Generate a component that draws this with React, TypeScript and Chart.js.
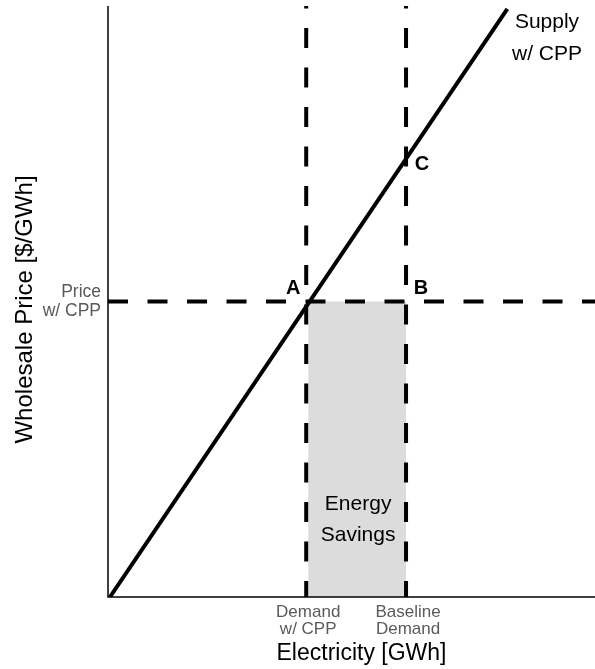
import React, { useEffect, useRef } from "react";
import { Chart, registerables } from "chart.js";

Chart.register(...registerables);

// Supply curve endpoints (x = electricity, y = wholesale price), axis range 0..100
const supplyX = [0.4, 82];
const supplyY = [0, 99.5];
// equilibrium price with CPP and the two demand levels
const priceCPP = [50];
const demandLevels = [40.7, 61.2]; // Demand w/ CPP, Baseline Demand
const yTickLabels = [["Price", "w/ CPP"]];
const xTickLabels = [["Demand", "w/ CPP"], ["Baseline", "Demand"]];
const pointLabels = ["A", "B", "C"];
const supplyLabel = ["Supply", "w/ CPP"];
const areaLabel = ["Energy", "Savings"];
const xTitle = "Electricity [GWh]";
const yTitle = "Wholesale Price [$/GWh]";

const FONT = "'Liberation Sans', Arial, sans-serif";

export default function App() {
  const ref = useRef<HTMLCanvasElement>(null);
  useEffect(() => {
    document.body.style.margin = "0";
    const canvas = ref.current!;
    const p = priceCPP[0];
    const dA = demandLevels[0];
    const dB = demandLevels[1];
    const slope = (supplyY[1] - supplyY[0]) / (supplyX[1] - supplyX[0]);
    const supplyAt = (x: number) => supplyY[0] + (x - supplyX[0]) * slope;

    const textPlugin = {
      id: "textPlugin",
      afterDraw(chart: any) {
        const ctx = chart.ctx as CanvasRenderingContext2D;
        const xs = chart.scales.x;
        const ys = chart.scales.y;
        const area = chart.chartArea;
        ctx.save();
        // axis lines
        ctx.strokeStyle = "#000";
        ctx.lineWidth = 1.5;
        ctx.beginPath();
        ctx.moveTo(area.left, area.top);
        ctx.lineTo(area.left, area.bottom);
        ctx.lineTo(area.right, area.bottom);
        ctx.stroke();

        // y tick labels
        ctx.fillStyle = "#5a5a5a";
        ctx.font = `17.5px ${FONT}`;
        ctx.textAlign = "right";
        ctx.textBaseline = "middle";
        yTickLabels.forEach((lines, i) => {
          const py = ys.getPixelForValue(priceCPP[i]);
          lines.forEach((l, j) => ctx.fillText(l, area.left - 7, py - 9 + j * 19));
        });
        // x tick labels
        ctx.font = `17px ${FONT}`;
        ctx.textAlign = "center";
        xTickLabels.forEach((lines, i) => {
          const px = xs.getPixelForValue(demandLevels[i]);
          lines.forEach((l, j) => ctx.fillText(l, px + 2, area.bottom + 15 + j * 17));
        });

        // axis titles
        ctx.fillStyle = "#000";
        ctx.font = `23px ${FONT}`;
        ctx.fillText(xTitle, (area.left + area.right) / 2 + 10, area.bottom + 57);
        ctx.save();
        ctx.font = `24px ${FONT}`;
        ctx.translate(25, (area.top + area.bottom) / 2 + 8);
        ctx.rotate(-Math.PI / 2);
        ctx.fillText(yTitle, 0, 0);
        ctx.restore();

        // point labels
        ctx.font = `bold 20px ${FONT}`;
        const py = ys.getPixelForValue(p);
        ctx.fillText(pointLabels[0], xs.getPixelForValue(dA) - 13, py - 13);
        ctx.fillText(pointLabels[1], xs.getPixelForValue(dB) + 15, py - 13);
        ctx.fillText(pointLabels[2], xs.getPixelForValue(dB) + 16, ys.getPixelForValue(supplyAt(dB)) + 6);

        // supply label
        ctx.font = `21px ${FONT}`;
        ctx.fillText(supplyLabel[0], 547, 22);
        ctx.fillText(supplyLabel[1], 547, 54);

        // area label
        const cx = (xs.getPixelForValue(dA) + xs.getPixelForValue(dB)) / 2 + 2;
        ctx.fillText(areaLabel[0], cx, 504);
        ctx.fillText(areaLabel[1], cx, 535);
        ctx.restore();
      },
    };

    const dash = [20, 19.5];
    const chart = new Chart(canvas, {
      type: "scatter",
      data: {
        datasets: [
          {
            data: [
              { x: dA + 0.4, y: p },
              { x: dB, y: p },
            ],
            showLine: true,
            fill: "origin",
            backgroundColor: "#dcdcdc",
            borderWidth: 0,
            pointRadius: 0,
            order: 5,
          },
          {
            data: [
              { x: 0, y: p },
              { x: 100, y: p },
            ],
            showLine: true,
            borderColor: "#000",
            borderWidth: 4,
            borderDash: dash,
            borderCapStyle: "butt",
            pointRadius: 0,
            order: 3,
          },
          {
            data: [
              { x: dA, y: 0 },
              { x: dA, y: 100 },
            ],
            showLine: true,
            borderColor: "#000",
            borderWidth: 4,
            borderDash: dash,
            borderDashOffset: 4,
            borderCapStyle: "butt",
            pointRadius: 0,
            order: 3,
          },
          {
            data: [
              { x: dB, y: 0 },
              { x: dB, y: 100 },
            ],
            showLine: true,
            borderColor: "#000",
            borderWidth: 4,
            borderDash: dash,
            borderDashOffset: 4,
            borderCapStyle: "butt",
            pointRadius: 0,
            order: 3,
          },
          {
            data: [
              { x: supplyX[0], y: supplyY[0] },
              { x: supplyX[1], y: supplyY[1] },
            ],
            showLine: true,
            borderColor: "#000",
            borderWidth: 4,
            borderCapStyle: "butt",
            pointRadius: 0,
            order: 1,
          },
        ],
      },
      options: {
        animation: false,
        responsive: false,
        maintainAspectRatio: false,
        layout: { padding: { left: 108, top: 6, right: 0, bottom: 72 } },
        plugins: { legend: { display: false }, tooltip: { enabled: false } },
        scales: {
          x: { type: "linear", min: 0, max: 100, display: false },
          y: { type: "linear", min: 0, max: 100, display: false },
        },
      },
      plugins: [textPlugin],
    });
    return () => chart.destroy();
  }, []);
  return <canvas ref={ref} width={595} height={669} style={{ display: "block" }} />;
}
